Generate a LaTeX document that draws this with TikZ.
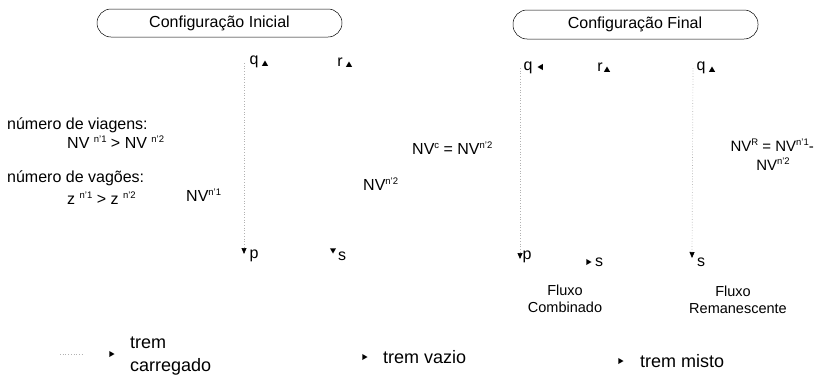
\documentclass[tikz,border=0pt]{standalone}
\usepackage{fontspec}
\setmainfont{Liberation Sans}
\usetikzlibrary{arrows.meta,shapes.geometric}
\newcommand\mysup[1]{\raisebox{0.7ex}{\fontsize{9.5}{9.5}\selectfont #1}}
\tikzset{
  lbl/.style={inner sep=0pt, font=\fontsize{16}{18}\selectfont},
  flux/.style={inner sep=0pt, font=\fontsize{14.5}{16}\selectfont},
  leg/.style={inner sep=0pt, font=\fontsize{18}{20}\selectfont, anchor=west},
  cfg/.style={draw, rounded corners=14pt, line width=0.5pt, font=\fontsize{16}{18}\selectfont},
  tri/.style={regular polygon, regular polygon sides=3, fill=black, inner sep=0pt, minimum size=7pt},
  flow/.style={gray!60, dotted, line width=0.7pt, -{Triangle[length=6pt,width=5pt,color=black,fill=black]}}
}
\begin{document}
\begin{tikzpicture}[x=1pt,y=-1pt]
\useasboundingbox (0,0) rectangle (818,383);
% boxes
\draw[cfg] (97,9) rectangle (342,37);
\node[lbl] (ci) at (219.5,23) {Configuração Inicial};
\draw[cfg] (513,10) rectangle (758,39);
\node[lbl] (cf) at (635,24) {Configuração Final};
% left text
\node[lbl, anchor=west] (nvg) at (7,125) {número de viagens:};
\node[lbl, anchor=west] (nvr) at (67,142) {NV \mysup{n'1} > NV \mysup{n'2}};
\node[lbl, anchor=west] (nvgo) at (7,178) {número de vagões:};
\node[lbl, anchor=west] (zr) at (67,198) {z \mysup{n'1} > z \mysup{n'2}};
% initial configuration
\node[lbl] (q1) at (254,62) {q};
\node[tri] (tq1) at (265,64) {};
\node[lbl] (r1) at (340,62) {r};
\node[tri] (tr1) at (349,65) {};
\coordinate (q1top) at (244,63);
\node[lbl] (p1) at (254,256) {p};
\coordinate (p1end) at (244,254);
\draw[flow] (q1top) -- (p1end);
\node[lbl] (s1) at (342,256) {s};
\node[tri, rotate=180] (ts1) at (333,250) {};
\node[lbl, anchor=west] (nv1) at (186,195) {NV\mysup{n'1}};
\node[lbl, anchor=west] (nv2) at (363,184) {NV\mysup{n'2}};
% final configuration
\node[lbl] (q2) at (528,68) {q};
\node[tri, rotate=90] (tq2) at (541,67) {};
\node[lbl] (r2) at (600,67) {r};
\node[tri] (tr2) at (607,70) {};
\node[lbl] (q3) at (701,68) {q};
\node[tri] (tq3) at (712,70) {};
\coordinate (q2top) at (520,68);
\coordinate (q3top) at (693,68);
\node[lbl] (p2) at (527,257) {p};
\coordinate (p2end) at (520,259);
\draw[flow] (q2top) -- (p2end);
\node[lbl] (s2) at (599,262) {s};
\node[tri, rotate=-90] (ts2) at (588,262) {};
\node[lbl] (s3) at (701,262) {s};
\coordinate (s3end) at (692,258);
\draw[flow] (q3top) -- (s3end);
\node[lbl, anchor=west] (nvc) at (412,148) {NV\mysup{c} = NV\mysup{n'2}};
\node[lbl, anchor=east, font=\fontsize{15}{17}\selectfont] (nvR) at (814,145) {NV\mysup{R} = NV\mysup{n'1}-};
\node[lbl, font=\fontsize{15}{17}\selectfont] (nvR2) at (773,164) {NV\mysup{n'2}};
\node[flux] (fc1) at (565,290) {Fluxo};
\node[flux] (fc2) at (565,307) {Combinado};
\node[flux] (fr1) at (733,291) {Fluxo};
\node[flux] (fr2) at (738,309) {Remanescente};
% legend
\coordinate (l1a) at (60,354);
\coordinate (l1b) at (84,354);
\draw[gray!60, dotted, line width=0.7pt] (l1a) -- (l1b);
\node[tri, rotate=-90] (lt1) at (111,354) {};
\node[leg] (lg1a) at (130,343) {trem};
\node[leg] (lg1b) at (130,367) {carregado};
\node[tri, rotate=-90] (lt2) at (364,357) {};
\node[leg] (lg2) at (383,357) {trem vazio};
\node[tri, rotate=-90] (lt3) at (620,361) {};
\node[leg] (lg3) at (640,361) {trem misto};
\end{tikzpicture}
\end{document}
